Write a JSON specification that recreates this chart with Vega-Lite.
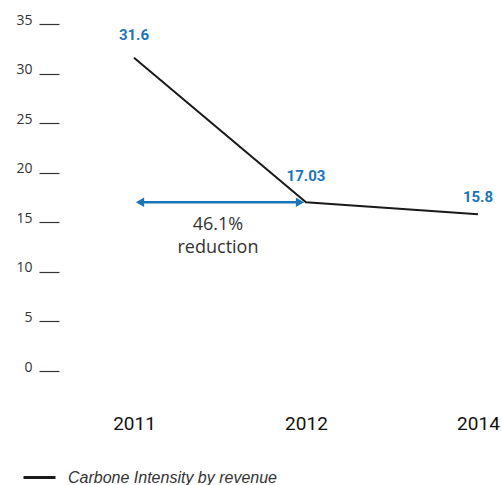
{
  "$schema": "https://vega.github.io/schema/vega-lite/v6.json",
  "width": 441,
  "height": 347,
  "autosize": {"type": "none"},
  "padding": {"left": 59, "top": 24, "right": 2, "bottom": 114},
  "background": "white",
  "config": {"view": {"stroke": null}},
  "datasets": {
    "main": [
      {"year": "2011", "value": 31.6, "label": "31.6", "series": "Carbone Intensity by revenue"},
      {"year": "2012", "value": 17.03, "label": "17.03", "series": "Carbone Intensity by revenue"},
      {"year": "2014", "value": 15.8, "label": "15.8", "series": "Carbone Intensity by revenue"}
    ],
    "arrow": [
      {"from": "2011", "to": "2012", "value": 17.03, "note": "46.1%\nreduction"}
    ]
  },
  "layer": [
    {
      "data": {"name": "main"},
      "mark": {"type": "line", "strokeWidth": 2},
      "encoding": {
        "x": {
          "field": "year", "type": "ordinal",
          "scale": {"type": "point", "domain": ["2011", "2012", "2014"], "padding": 0.282, "align": 0.773},
          "axis": {
            "title": null, "domain": false, "ticks": false, "tickSize": 0,
            "labelAngle": 0, "labelPadding": 58, "labelBaseline": "alphabetic",
            "labelFont": "Roboto", "labelFontSize": 19, "labelFontWeight": "normal", "labelColor": "#111111"
          }
        },
        "y": {
          "field": "value", "type": "quantitative",
          "scale": {"domain": [0, 35], "nice": false, "zero": true},
          "axis": {
            "title": null, "domain": false, "grid": false,
            "values": [0, 5, 10, 15, 20, 25, 30, 35],
            "tickSize": 20, "tickColor": "#333333", "tickWidth": 1.2,
            "labelPadding": 7, "labelBaseline": "alphabetic",
            "labelFont": "Open Sans", "labelFontSize": 14, "labelColor": "#333333"
          }
        },
        "color": {
          "field": "series", "type": "nominal",
          "scale": {"range": ["#1a1a1a"]},
          "legend": {
            "title": null, "orient": "none", "legendX": -37, "legendY": 436,
            "padding": 0, "symbolType": "stroke", "symbolSize": 1024,
            "symbolStrokeWidth": 3, "symbolStrokeColor": "#1a1a1a",
            "labelOffset": 11, "labelLimit": 400, "labelFont": "Liberation Sans", "labelFontSize": 16,
            "labelFontStyle": "italic", "labelColor": "#333333"
          }
        }
      }
    },
    {
      "data": {"name": "main"},
      "transform": [{"filter": "datum.year == '2011'"}],
      "mark": {"type": "text", "dy": -18, "baseline": "alphabetic", "align": "center",
               "font": "Roboto", "fontWeight": "bold", "fontSize": 15, "color": "#1a75b8"},
      "encoding": {
        "x": {"field": "year", "type": "ordinal"},
        "y": {"field": "value", "type": "quantitative"},
        "text": {"field": "label"}
      }
    },
    {
      "data": {"name": "main"},
      "transform": [{"filter": "datum.year == '2012'"}],
      "mark": {"type": "text", "dy": -21, "baseline": "alphabetic", "align": "center",
               "font": "Roboto", "fontWeight": "bold", "fontSize": 15, "color": "#1a75b8"},
      "encoding": {
        "x": {"field": "year", "type": "ordinal"},
        "y": {"field": "value", "type": "quantitative"},
        "text": {"field": "label"}
      }
    },
    {
      "data": {"name": "main"},
      "transform": [{"filter": "datum.year == '2014'"}],
      "mark": {"type": "text", "dy": -12, "baseline": "alphabetic", "align": "center",
               "font": "Roboto", "fontWeight": "bold", "fontSize": 15, "color": "#1a75b8"},
      "encoding": {
        "x": {"field": "year", "type": "ordinal"},
        "y": {"field": "value", "type": "quantitative"},
        "text": {"field": "label"}
      }
    },
    {
      "data": {"name": "arrow"},
      "mark": {"type": "rule", "color": "#1a75b8", "strokeWidth": 2.5, "xOffset": 4, "x2Offset": -4},
      "encoding": {
        "x": {"field": "from", "type": "ordinal"},
        "x2": {"field": "to"},
        "y": {"field": "value", "type": "quantitative"}
      }
    },
    {
      "data": {"name": "arrow"},
      "mark": {"type": "point", "shape": "triangle-left", "filled": true, "color": "#1a75b8", "size": 90, "opacity": 1, "xOffset": 6},
      "encoding": {
        "x": {"field": "from", "type": "ordinal"},
        "y": {"field": "value", "type": "quantitative"}
      }
    },
    {
      "data": {"name": "arrow"},
      "mark": {"type": "point", "shape": "triangle-right", "filled": true, "color": "#1a75b8", "size": 90, "opacity": 1, "xOffset": -6},
      "encoding": {
        "x": {"field": "to", "type": "ordinal"},
        "y": {"field": "value", "type": "quantitative"}
      }
    },
    {
      "data": {"name": "arrow"},
      "mark": {"type": "text", "xOffset": 84, "dy": 28, "baseline": "alphabetic", "align": "center",
               "lineBreak": "\n", "lineHeight": 23, "font": "Open Sans", "fontSize": 18, "color": "#333333"},
      "encoding": {
        "x": {"field": "from", "type": "ordinal"},
        "y": {"field": "value", "type": "quantitative"},
        "text": {"field": "note"}
      }
    }
  ]
}
